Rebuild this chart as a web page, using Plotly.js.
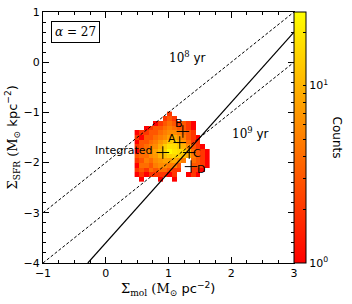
<!DOCTYPE html>
<html>
<head>
<meta charset="utf-8">
<script src="https://cdn.plot.ly/plotly-3.0.1.min.js"></script>
<style>html,body{margin:0;padding:0;background:#fff;}#chart{width:352px;height:304px;}</style>
</head>
<body>
<div id="chart"></div>
<script>
// Bin centers of the 2D histogram (log Sigma_mol, log Sigma_SFR)
const binX = [0.4975, 0.5725, 0.6475, 0.7225, 0.7975, 0.8725, 0.9475, 1.0225, 1.0975, 1.1725, 1.2475, 1.3225, 1.3975, 1.4725, 1.5475, 1.6225];
const binY = [-2.3335, -2.2405, -2.1475, -2.0545, -1.9615, -1.8685, -1.7755, -1.6825, -1.5895, -1.4965, -1.4035, -1.3105, -1.2175, -1.1245, -1.0315];
// Counts per bin, rows from bottom (binY[0]) to top
const counts = [
  [0, 1, 0, 0, 0, 1, 0, 0, 1, 0, 0, 0, 0, 0, 0, 0],
  [1, 2, 1, 2, 2, 2, 2, 1, 2, 0, 0, 1, 2, 1, 0, 0],
  [2, 3, 2, 4, 3, 4, 4, 3, 2, 2, 0, 0, 2, 2, 1, 0],
  [1, 4, 4, 3, 5, 6, 6, 5, 5, 3, 0, 0, 3, 3, 2, 1],
  [2, 3, 5, 4, 6, 7, 8, 8, 9, 7, 5, 0, 4, 3, 2, 1],
  [3, 4, 4, 6, 7, 10, 12, 14, 16, 14, 12, 9, 5, 3, 2, 1],
  [1, 4, 5, 5, 8, 11, 16, 24, 19, 17, 15, 10, 4, 3, 2, 1],
  [2, 3, 4, 5, 6, 9, 14, 18, 17, 14, 10, 6, 3, 2, 1, 0],
  [1, 3, 3, 4, 5, 7, 9, 13, 14, 10, 7, 4, 2, 2, 0, 0],
  [2, 1, 3, 3, 4, 5, 6, 8, 9, 7, 5, 3, 2, 1, 0, 0],
  [1, 2, 2, 3, 3, 4, 5, 6, 6, 5, 4, 3, 2, 0, 0, 0],
  [0, 0, 1, 2, 3, 3, 4, 5, 4, 3, 3, 2, 1, 0, 0, 0],
  [0, 0, 0, 0, 1, 2, 3, 4, 3, 2, 3, 2, 1, 0, 0, 0],
  [0, 0, 0, 0, 0, 0, 2, 3, 2, 0, 0, 0, 0, 0, 0, 0],
  [0, 0, 0, 0, 0, 0, 0, 2, 0, 0, 0, 0, 0, 0, 0, 0]
];
// Depletion-time lines and Kennicutt-Schmidt relation endpoints
const lineX = [-1, 3];
const tau8Y = [-3, 1];
const tau9Y = [-4, 0];
const ksX = [-0.2857, 3];
const ksY = [-4, 0.6];
// Labelled points
const ptNames = ['Integrated', 'A', 'B', 'C', 'D'];
const ptX = [0.91, 1.18, 1.23, 1.33, 1.36];
const ptY = [-1.80, -1.60, -1.38, -1.80, -2.08];
const labX = [0.78, 1.06, 1.16, 1.46, 1.52];
const labY = [-1.75, -1.52, -1.23, -1.82, -2.13];
const countMax = 26;

const zLog = counts.map(r => r.map(c => c > 0 ? Math.log10(c) : null));
const cbVals = [0, Math.log10(2), Math.log10(3), Math.log10(4), Math.log10(5), Math.log10(6), Math.log10(7), Math.log10(8), Math.log10(9), 1, Math.log10(20)];
const cbText = ['10<sup>0</sup>', '', '', '', '', '', '', '', '', '10<sup>1</sup>', ''];

const SERIF = 'DejaVu Serif';
const traces = [
  {
    type: 'heatmap', x: binX, y: binY, z: zLog, zmin: 0, zmax: Math.log10(countMax),
    zsmooth: false, hoverongaps: false,
    colorscale: [[0, 'rgb(255,0,0)'], [1, 'rgb(255,255,0)']],
    colorbar: {
      x: 1, xanchor: 'left', xpad: 0, y: 0.5, yanchor: 'middle', ypad: 0,
      len: 1, lenmode: 'fraction', thickness: 12, thicknessmode: 'pixels',
      outlinewidth: 1, outlinecolor: '#000',
      tickmode: 'array', tickvals: cbVals, ticktext: cbText,
      ticks: 'inside', ticklen: 3, tickcolor: '#000',
      tickfont: {size: 11, color: '#000', family: 'DejaVu Sans'}
    }
  },
  {type: 'scatter', mode: 'lines', x: lineX, y: tau8Y, line: {color: '#000', width: 1, dash: '3px,2px'}, hoverinfo: 'skip'},
  {type: 'scatter', mode: 'lines', x: lineX, y: tau9Y, line: {color: '#000', width: 1, dash: '3px,2px'}, hoverinfo: 'skip'},
  {type: 'scatter', mode: 'lines', x: ksX, y: ksY, line: {color: '#000', width: 1.2}, hoverinfo: 'skip'},
  {type: 'scatter', mode: 'markers', x: ptX, y: ptY, text: ptNames,
   marker: {symbol: 'cross-thin', size: 9, color: '#000', line: {color: '#000', width: 1}}}
];

const annotations = ptNames.map((n, i) => ({
  x: labX[i], y: labY[i], xref: 'x', yref: 'y', text: n, showarrow: false,
  xanchor: i === 0 ? 'right' : 'center', yanchor: 'middle',
  font: {size: 11, color: '#000', family: 'DejaVu Sans'}
}));
annotations.push(
  {x: 1.30, y: 0.10, xref: 'x', yref: 'y', showarrow: false, xanchor: 'center', yanchor: 'middle',
   text: '<span style="font-family:DejaVu Serif">10<sup>8</sup></span> yr',
   font: {size: 12, color: '#000', family: 'DejaVu Sans'}},
  {x: 2.31, y: -1.41, xref: 'x', yref: 'y', showarrow: false, xanchor: 'center', yanchor: 'middle',
   text: '<span style="font-family:DejaVu Serif">10<sup>9</sup></span> yr',
   font: {size: 12, color: '#000', family: 'DejaVu Sans'}},
  {x: 0.1275, y: 0.92, xref: 'paper', yref: 'paper', showarrow: false, xanchor: 'center', yanchor: 'middle',
   text: '<i>α</i> = 27', bordercolor: '#000', borderwidth: 1, borderpad: 3, bgcolor: '#fff',
   font: {size: 12, color: '#000', family: SERIF}},
  {x: 0.498, y: -0.104, xref: 'paper', yref: 'paper', showarrow: false, xanchor: 'center', yanchor: 'middle',
   text: '<span style="font-family:DejaVu Serif">Σ<sub>mol</sub> (M<sub>⊙</sub></span> pc<sup>−2</sup>)',
   font: {size: 13, color: '#000', family: 'DejaVu Sans'}},
  {x: -0.1235, y: 0.5, xref: 'paper', yref: 'paper', showarrow: false, textangle: -90, xanchor: 'center', yanchor: 'middle',
   text: '<span style="font-family:DejaVu Serif">Σ<sub>SFR</sub> (M<sub>⊙</sub></span> kpc<sup>−2</sup>)',
   font: {size: 13, color: '#000', family: 'DejaVu Sans'}},
  {x: 1.175, y: 0.5, xref: 'paper', yref: 'paper', showarrow: false, textangle: 90, xanchor: 'center', yanchor: 'middle',
   text: 'Counts', font: {size: 12, color: '#000', family: 'DejaVu Sans'}}
);

const axisCommon = {
  showgrid: false, zeroline: false, showline: true, linecolor: '#000', linewidth: 1,
  mirror: 'allticks', ticks: 'inside', ticklen: 6, tickwidth: 1, tickcolor: '#000',
  tickfont: {size: 11, color: '#000', family: 'DejaVu Sans'}
};
const layout = {
  width: 352, height: 304,
  margin: {l: 43, r: 58, t: 12, b: 41, pad: 0},
  paper_bgcolor: '#fff', plot_bgcolor: '#fff',
  showlegend: false,
  xaxis: Object.assign({}, axisCommon, {range: [-1, 3], dtick: 1, tick0: -1,
    minor: {dtick: 0.25, ticks: 'inside', ticklen: 3, tickcolor: '#000', showgrid: false}}),
  yaxis: Object.assign({}, axisCommon, {range: [-4, 1], dtick: 1, tick0: -4,
    minor: {dtick: 0.2, ticks: 'inside', ticklen: 3, tickcolor: '#000', showgrid: false}}),
  annotations: annotations
};
Plotly.newPlot('chart', traces, layout, {staticPlot: true, displayModeBar: false});
</script>
</body>
</html>
